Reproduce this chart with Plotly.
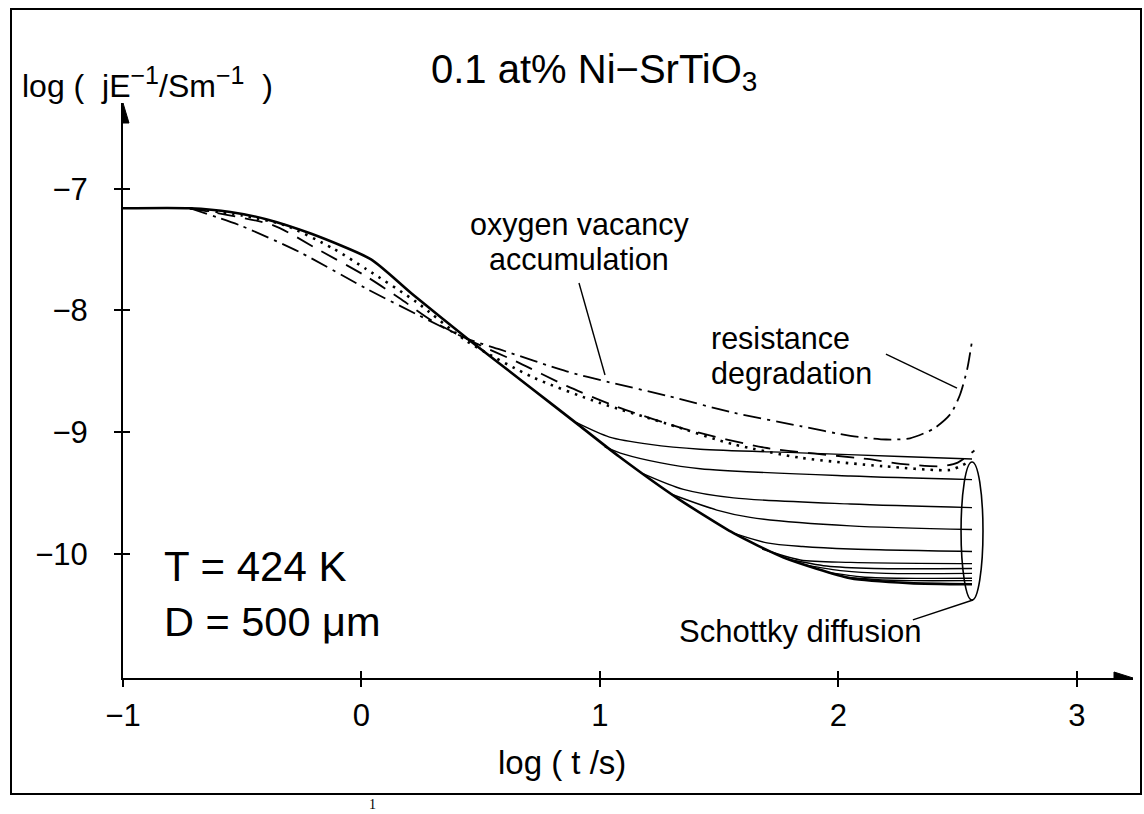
import plotly.graph_objects as go

W, H = 1144, 814

# ---------------- data ----------------
X_TICKS = [-1, 0, 1, 2, 3]
X_TICK_LABELS = ["\u22121", "0", "1", "2", "3"]
Y_TICKS = [-7, -8, -9, -10]
Y_TICK_LABELS = ["\u22127", "\u22128", "\u22129", "\u221210"]

# envelope (Schottky diffusion, lowest solid curve)
ENV_X = [-1.0, -0.72, -0.55, -0.40, -0.21, 0.04, 0.21, 0.45, 0.70, 0.91, 1.08, 1.33, 1.56, 1.77, 2.05, 2.30, 2.56]
ENV_Y = [-7.16, -7.16, -7.19, -7.25, -7.37, -7.58, -7.86, -8.24, -8.62, -8.94, -9.20, -9.55, -9.83, -10.03, -10.20, -10.24, -10.25]

# family of solid curves branching off the envelope
SOL_A_X = [0.90, 1.04, 1.21, 1.42, 1.84, 2.26, 2.56]
SOL_A_Y = [-8.92, -9.04, -9.10, -9.14, -9.17, -9.20, -9.22]
SOL_B_X = [1.02, 1.10, 1.25, 1.42, 2.05, 2.56]
SOL_B_Y = [-9.12, -9.18, -9.25, -9.30, -9.36, -9.39]
SOL_C_X = [1.18, 1.35, 1.56, 2.05, 2.56]
SOL_C_Y = [-9.34, -9.47, -9.54, -9.59, -9.62]
SOL_D_X = [1.30, 1.49, 1.63, 2.05, 2.56]
SOL_D_Y = [-9.51, -9.64, -9.70, -9.77, -9.80]
SOL_E_X = [1.56, 1.70, 1.85, 2.05, 2.56]
SOL_E_Y = [-9.83, -9.91, -9.94, -9.96, -9.98]
SOL_F_X = [1.68, 1.84, 2.05, 2.56]
SOL_F_Y = [-9.96, -10.05, -10.07, -10.08]
SOL_G_X = [1.78, 1.95, 2.15, 2.56]
SOL_G_Y = [-10.04, -10.10, -10.12, -10.12]
SOL_H_X = [1.86, 2.02, 2.20, 2.56]
SOL_H_Y = [-10.09, -10.14, -10.16, -10.16]
SOL_I_X = [1.95, 2.10, 2.25, 2.56]
SOL_I_Y = [-10.15, -10.19, -10.20, -10.20]
SOL_J_X = [2.02, 2.15, 2.30, 2.56]
SOL_J_Y = [-10.19, -10.21, -10.22, -10.22]

# dash-dot curve (oxygen vacancy accumulation / resistance degradation)
DD_X = [-0.72, -0.51, -0.26, 0.02, 0.23, 0.44, 0.58, 0.86, 1.04, 1.28, 1.56, 1.84, 2.05, 2.20, 2.30, 2.40, 2.47, 2.51, 2.54, 2.56]
DD_Y = [-7.16, -7.30, -7.52, -7.82, -8.03, -8.23, -8.32, -8.50, -8.59, -8.70, -8.84, -8.95, -9.03, -9.06, -9.05, -8.97, -8.85, -8.69, -8.48, -8.25]

# dashed curve
DA_X = [-0.72, -0.37, -0.19, 0.02, 0.16, 0.30, 0.48, 0.65, 0.86, 1.07, 1.35, 1.70, 2.12, 2.26, 2.43, 2.50, 2.57]
DA_Y = [-7.16, -7.30, -7.49, -7.72, -7.90, -8.09, -8.27, -8.42, -8.62, -8.79, -8.97, -9.13, -9.22, -9.26, -9.28, -9.25, -9.15]

# dotted curve
DO_X = [-0.72, -0.50, -0.32, -0.12, 0.02, 0.23, 0.44, 0.72, 1.00, 1.28, 1.56, 1.84, 2.19, 2.47, 2.52, 2.55]
DO_Y = [-7.16, -7.22, -7.30, -7.49, -7.66, -7.93, -8.25, -8.55, -8.76, -8.93, -9.10, -9.21, -9.28, -9.31, -9.27, -9.24]

# ---------------- layout constants ----------------
X_RANGE = [-1.0, 3.235]
Y_RANGE = [-11.02, -6.295]
X_DOMAIN = [123 / W, 1133 / W]
Y_DOMAIN = [(H - 678) / H, (H - 103) / H]
FONT = "Liberation Sans, Arial, Helvetica, sans-serif"


def px(x):
    return x / W


def py(y):
    return 1 - y / H


fig = go.Figure()

solid_thin = dict(color="black", width=1.4)
for xs, ys in [(SOL_A_X, SOL_A_Y), (SOL_B_X, SOL_B_Y), (SOL_C_X, SOL_C_Y), (SOL_D_X, SOL_D_Y),
               (SOL_E_X, SOL_E_Y), (SOL_F_X, SOL_F_Y), (SOL_G_X, SOL_G_Y), (SOL_H_X, SOL_H_Y),
               (SOL_I_X, SOL_I_Y), (SOL_J_X, SOL_J_Y)]:
    fig.add_trace(go.Scatter(x=xs, y=ys, mode="lines", line=dict(solid_thin, shape="spline", smoothing=0.8),
                             hoverinfo="skip", showlegend=False))

fig.add_trace(go.Scatter(x=ENV_X, y=ENV_Y, mode="lines",
                         line=dict(color="black", width=2.6, shape="spline", smoothing=0.6),
                         hoverinfo="skip", showlegend=False))
fig.add_trace(go.Scatter(x=DD_X, y=DD_Y, mode="lines",
                         line=dict(color="black", width=1.8, dash="18px,6px,3px,6px", shape="spline", smoothing=0.7),
                         hoverinfo="skip", showlegend=False))
fig.add_trace(go.Scatter(x=DA_X, y=DA_Y, mode="lines",
                         line=dict(color="black", width=1.8, dash="18px,10px", shape="spline", smoothing=0.7),
                         hoverinfo="skip", showlegend=False))
fig.add_trace(go.Scatter(x=DO_X, y=DO_Y, mode="lines",
                         line=dict(color="black", width=2.6, dash="2.5px,6px", shape="spline", smoothing=0.7),
                         hoverinfo="skip", showlegend=False))
# dummy trace so that the overlay axes (inner tick halves) are drawn
fig.add_trace(go.Scatter(x=[None], y=[None], xaxis="x2", yaxis="y2", mode="lines",
                         hoverinfo="skip", showlegend=False))

axis_common = dict(showgrid=False, zeroline=False, tickcolor="black", tickwidth=1.5, ticklen=7,
                   automargin=False)

fig.update_layout(
    width=W, height=H,
    margin=dict(l=0, r=0, t=0, b=0, autoexpand=False),
    paper_bgcolor="white", plot_bgcolor="white",
    showlegend=False,
    xaxis=dict(axis_common, domain=X_DOMAIN, range=X_RANGE, showline=True, linecolor="black", linewidth=2,
               ticks="outside", tickvals=X_TICKS, ticktext=X_TICK_LABELS,
               tickfont=dict(family=FONT, size=31, color="black"), ticklabelstandoff=2,
               anchor="y"),
    yaxis=dict(axis_common, domain=Y_DOMAIN, range=Y_RANGE, showline=True, linecolor="black", linewidth=2,
               ticks="outside", tickvals=Y_TICKS, ticktext=Y_TICK_LABELS,
               tickfont=dict(family=FONT, size=31, color="black"), ticklabelstandoff=20,
               anchor="x"),
    xaxis2=dict(axis_common, domain=X_DOMAIN, range=X_RANGE, overlaying="x", anchor="y2", side="bottom",
                ticks="inside", tickvals=X_TICKS, showticklabels=False, showline=False),
    yaxis2=dict(axis_common, domain=Y_DOMAIN, range=Y_RANGE, overlaying="y", anchor="x2", side="left",
                ticks="inside", tickvals=Y_TICKS, showticklabels=False, showline=False),
)

# arrow heads at the axis ends
xa_len, xa_half = 19 / 238.5, 6 / 121.7
ya_len, ya_half = 20 / 121.7, 6 / 238.5
xt, yb = X_RANGE[1], Y_RANGE[0]
xl, yt = X_RANGE[0], Y_RANGE[1]
fig.add_shape(type="path", xref="x", yref="y",
              path=f"M {xt},{yb} L {xt - xa_len},{yb + xa_half} L {xt - xa_len},{yb - xa_half} Z",
              fillcolor="black", line=dict(color="black", width=1))
fig.add_shape(type="path", xref="x", yref="y",
              path=f"M {xl},{yt} L {xl - ya_half},{yt - ya_len} L {xl + ya_half},{yt - ya_len} Z",
              fillcolor="black", line=dict(color="black", width=1))

# ellipse around the ends of the Schottky curves
fig.add_shape(type="circle", xref="x", yref="y", x0=2.514, x1=2.606, y0=-10.38, y1=-9.245,
              line=dict(color="black", width=1.6))

# pointer lines
for (x0, y0, x1, y1) in [(0.912, -7.774, 1.021, -8.53),
                         (2.199, -8.358, 2.497, -8.637),
                         (2.312, -10.543, 2.564, -10.379)]:
    fig.add_shape(type="line", xref="x", yref="y", x0=x0, y0=y0, x1=x1, y1=y1,
                  line=dict(color="black", width=1.4))

# outer frame
fig.add_shape(type="rect", xref="paper", yref="paper", x0=px(11), x1=px(1141), y0=py(794), y1=py(9),
              line=dict(color="black", width=2))


def txt(text, x, y, size, xanchor="left", family=FONT):
    fig.add_annotation(text=text, x=px(x), y=py(y), xref="paper", yref="paper", showarrow=False,
                       xanchor=xanchor, yanchor="middle", font=dict(family=family, size=size, color="black"))


SUP = '<sup><span style="font-size:25px">\u22121</span></sup>'
txt("0.1 at% Ni\u2212SrTiO<sub>3</sub>", 429, 72, 40)
txt("log (  jE" + SUP + "/Sm" + SUP + "  )", 20, 82, 32)
txt("oxygen vacancy", 579, 224, 30.5, "center")
txt("accumulation", 579, 259, 30.5, "center")
txt("resistance", 709, 338, 30.5)
txt("degradation", 709, 373, 30.5)
txt("T = 424 K", 162, 566, 42)
txt("D = 500 \u03bcm", 162, 621, 41.5)
txt("Schottky diffusion", 800, 631, 31, "center")
txt("log ( t /s)", 562, 762, 33, "center")
txt("1", 372, 804, 14, "center", family="Liberation Serif, Times New Roman, serif")

fig.write_html("out.html")
